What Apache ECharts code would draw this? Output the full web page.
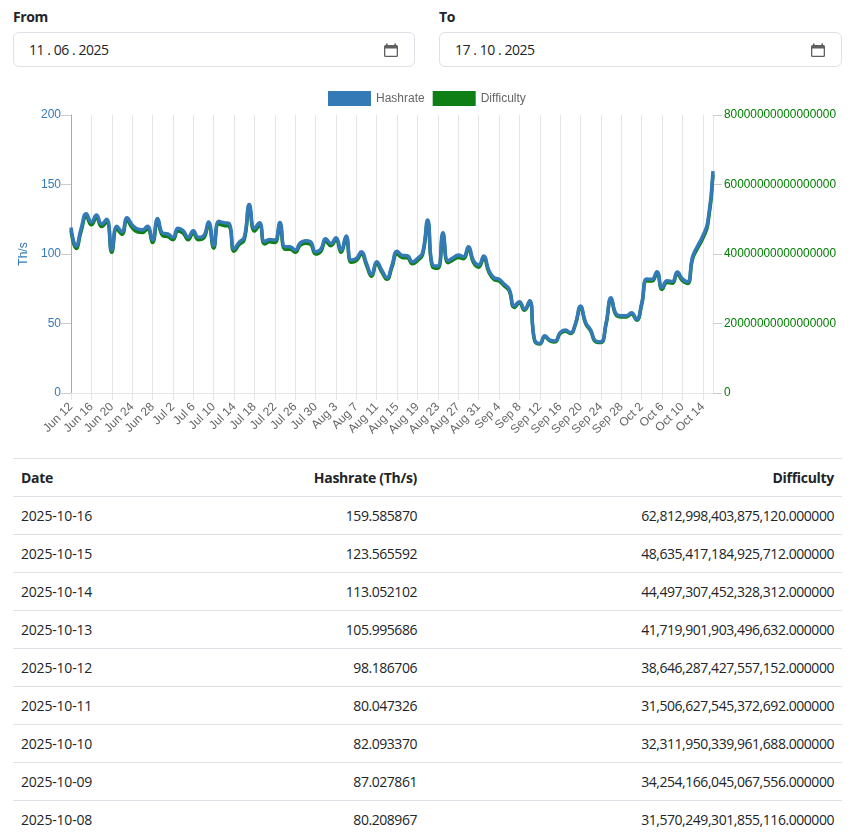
<!DOCTYPE html>
<html><head><meta charset="utf-8">
<script src="https://cdn.jsdelivr.net/npm/echarts@6/dist/echarts.min.js"></script>
<style>
html,body{margin:0;padding:0;background:#fff;width:856px;height:833px;overflow:hidden;font-family:"Open Sans","Noto Sans",sans-serif;color:#212529}
.lbl{position:absolute;top:7px;font-size:14px;font-weight:700;line-height:20px;letter-spacing:-.4px}
.inp{position:absolute;top:32px;height:33px;border:1px solid #dee2e6;border-radius:6px;box-sizing:content-box;background:#fff}
.inp span{position:absolute;left:15px;top:7px;font-size:14px;line-height:20px;letter-spacing:-.45px;white-space:pre}
.inp svg{position:absolute;right:15px;top:9px}
#chart{position:absolute;left:0;top:80px;width:856px;height:378px}
table{position:absolute;left:13px;top:458px;width:829px;border-collapse:collapse;font-size:14px;table-layout:fixed}
th,td{height:37px;padding:0 8px;border-top:1px solid #dee2e6;border-bottom:1px solid #dee2e6;box-sizing:content-box;line-height:20px}
th{font-weight:700;letter-spacing:-.3px}
td{letter-spacing:-.45px}
td.l{letter-spacing:-.2px}
.l{text-align:left}.r{text-align:right}
</style></head><body>
<div class="lbl" style="left:13px">From</div>
<div class="inp" style="left:13px;width:400px"><span>11 . 06 . 2025</span><svg width="16" height="16" viewBox="0 0 16 16"><path d="M3 1.500h1.600V3h6.800V1.500H13V3h.5A1.500 1.500 0 0 1 15 4.500v9a1.500 1.500 0 0 1-1.500 1.500h-11A1.500 1.500 0 0 1 1 13.500v-9A1.500 1.500 0 0 1 2.500 3H3zM2.300 6.500v7c0 .2.100.3.300.3h10.800c.2 0 .3-.1.300-.3v-7z" fill="#5f5f5f"/></svg></div>
<div class="lbl" style="left:439px">To</div>
<div class="inp" style="left:439px;width:401px"><span>17 . 10 . 2025</span><svg width="16" height="16" viewBox="0 0 16 16"><path d="M3 1.500h1.600V3h6.800V1.500H13V3h.5A1.500 1.500 0 0 1 15 4.500v9a1.500 1.500 0 0 1-1.500 1.500h-11A1.500 1.500 0 0 1 1 13.500v-9A1.500 1.500 0 0 1 2.500 3H3zM2.300 6.500v7c0 .2.100.3.300.3h10.800c.2 0 .3-.1.300-.3v-7z" fill="#5f5f5f"/></svg></div>
<div id="chart"></div>
<table id="tbl"></table>
<script>
const dates = ["Jun 12","Jun 13","Jun 14","Jun 15","Jun 16","Jun 17","Jun 18","Jun 19","Jun 20","Jun 21","Jun 22","Jun 23","Jun 24","Jun 25","Jun 26","Jun 27","Jun 28","Jun 29","Jun 30",
"Jul 1","Jul 2","Jul 3","Jul 4","Jul 5","Jul 6","Jul 7","Jul 8","Jul 9","Jul 10","Jul 11","Jul 12","Jul 13","Jul 14","Jul 15","Jul 16","Jul 17","Jul 18","Jul 19","Jul 20","Jul 21","Jul 22","Jul 23","Jul 24","Jul 25","Jul 26","Jul 27","Jul 28","Jul 29","Jul 30","Jul 31",
"Aug 1","Aug 2","Aug 3","Aug 4","Aug 5","Aug 6","Aug 7","Aug 8","Aug 9","Aug 10","Aug 11","Aug 12","Aug 13","Aug 14","Aug 15","Aug 16","Aug 17","Aug 18","Aug 19","Aug 20","Aug 21","Aug 22","Aug 23","Aug 24","Aug 25","Aug 26","Aug 27","Aug 28","Aug 29","Aug 30","Aug 31",
"Sep 1","Sep 2","Sep 3","Sep 4","Sep 5","Sep 6","Sep 7","Sep 8","Sep 9","Sep 10","Sep 11","Sep 12","Sep 13","Sep 14","Sep 15","Sep 16","Sep 17","Sep 18","Sep 19","Sep 20","Sep 21","Sep 22","Sep 23","Sep 24","Sep 25","Sep 26","Sep 27","Sep 28","Sep 29","Sep 30",
"Oct 1","Oct 2","Oct 3","Oct 4","Oct 5","Oct 6","Oct 7","Oct 8","Oct 9","Oct 10","Oct 11","Oct 12","Oct 13","Oct 14","Oct 15","Oct 16"];
const hashrate = [119,105.7,118.5,129,123,128,121.6,125,103,120,116,126,121,118,117.3,120,110,125.6,115,
114.4,112,118.5,116.8,112,116.8,112,113,123,106,123.5,122.5,122,103.6,108.4,112,135.7,118.5,122.5,109,110.5,110,122.7,105.2,105.2,102.8,108,109.5,108.8,101.6,103.3,
111,107.6,111.7,102.8,113,95.6,96.8,101.6,93.2,85.3,94.4,88.4,83,92,102,99,98.8,94.4,96.8,101,124.4,92,91.3,115.3,95.2,97.3,99.2,98,105.2,95.2,92,
98.5,88.4,83,81.8,78.4,74.6,62.6,65.7,60.4,66.4,38,35.7,41.2,38,37.4,43.4,45.3,43.4,50,62.6,50.8,45.3,37.4,36.9,50,68.6,56.8,55.6,55.6,57.8,
53,64.5,82,81.8,87.3,75.8,80.8,80.209,87.028,82.093,80.047,98.187,105.996,113.052,123.566,159.586];
const difficultyE15 = [46.8,41.6,46.6,50.8,48.4,50.4,47.9,49.2,40.5,47.2,45.7,49.6,47.6,46.4,46.2,47.2,43.3,49.4,45.3,
45.0,44.1,46.6,46.0,44.1,46.0,44.1,44.5,48.4,41.7,48.6,48.2,48.0,40.8,42.7,44.1,53.4,46.6,48.2,42.9,43.5,43.3,48.3,41.4,41.4,40.5,42.5,43.1,42.8,40.0,40.7,
43.7,42.4,44.0,40.5,44.5,37.6,38.1,40.0,36.7,33.6,37.2,34.8,32.7,36.2,40.1,39.0,38.9,37.2,38.1,39.8,49.0,36.2,35.9,45.4,37.5,38.3,39.0,38.6,41.4,37.5,36.2,
38.8,34.8,32.7,32.2,30.9,29.4,24.6,25.9,23.8,26.1,15.0,14.1,16.2,15.0,14.7,17.1,17.8,17.1,19.7,24.6,20.0,17.8,14.7,14.5,19.7,27.0,22.4,21.9,21.9,22.7,
20.9,25.4,32.3,32.2,34.4,29.8,31.8,31.57,34.25,32.31,31.51,38.65,41.72,44.50,48.64,62.81];
const tableDates = ["2025-10-16","2025-10-15","2025-10-14","2025-10-13","2025-10-12","2025-10-11","2025-10-10","2025-10-09","2025-10-08"];
const tableHashrate = ["159.585870","123.565592","113.052102","105.995686","98.186706","80.047326","82.093370","87.027861","80.208967"];
const tableDifficulty = ["62,812,998,403,875,120.000000","48,635,417,184,925,712.000000","44,497,307,452,328,312.000000","41,719,901,903,496,632.000000","38,646,287,427,557,152.000000","31,506,627,545,372,692.000000","32,311,950,339,961,688.000000","34,254,166,045,067,556.000000","31,570,249,301,855,116.000000"];

let rows = '<colgroup><col style="width:200px"><col style="width:212px"><col></colgroup><tr><th class="l">Date</th><th class="r">Hashrate (Th/s)</th><th class="r">Difficulty</th></tr>';
tableDates.forEach((d,i)=>{rows+=`<tr><td class="l">${d}</td><td class="r">${tableHashrate[i]}</td><td class="r">${tableDifficulty[i]}</td></tr>`;});
document.getElementById('tbl').innerHTML=rows;

const BLUE='#337ab7',GREEN='#0e7f14',GRID='#e5e5e5';
const F='"Liberation Sans",Arial,sans-serif';
const chart=echarts.init(document.getElementById('chart'),null,{renderer:'canvas'});
chart.setOption({
  animation:false,
  textStyle:{fontFamily:F},
  legend:{left:328,top:11,padding:0,itemWidth:43,itemHeight:15,itemGap:8,icon:'rect',
    textStyle:{color:'#666',fontSize:12,fontFamily:F,padding:[0,0,2,0]},
    data:[{name:'Hashrate',itemStyle:{color:BLUE}},{name:'Difficulty',itemStyle:{color:GREEN}}]},
  grid:{left:71,top:35,width:642,height:278,containLabel:false},
  xAxis:{type:'category',boundaryGap:false,data:dates,
    axisLine:{lineStyle:{color:GRID}},
    axisTick:{show:true,interval:3,length:7,lineStyle:{color:GRID}},
    splitLine:{show:true,interval:3,lineStyle:{color:GRID,width:1}},
    axisLabel:{interval:3,rotate:45,color:'#666',fontSize:12,fontFamily:F,margin:12}},
  yAxis:[
    {type:'value',min:0,max:200,interval:50,position:'left',name:'Th/s',nameLocation:'middle',nameGap:38,
     nameTextStyle:{color:BLUE,fontSize:12,fontFamily:F},
     axisLine:{show:true,lineStyle:{color:'#aaa'}},
     axisTick:{show:true,length:10,lineStyle:{color:'#ccc'}},splitLine:{show:false},
     axisLabel:{color:BLUE,fontSize:12,fontFamily:F,margin:10}},
    {type:'value',min:0,max:80,interval:20,position:'right',
     axisLine:{show:true,lineStyle:{color:GRID}},
     axisTick:{show:true,length:9,lineStyle:{color:'#ccc'}},splitLine:{show:false},
     axisLabel:{color:'#008000',fontSize:11.85,fontFamily:F,margin:11,
       formatter:v=>v===0?'0':v+'000000000000000'}}
  ],
  series:[
    {name:'Difficulty',type:'line',yAxisIndex:1,data:difficultyE15,smooth:0.5,showSymbol:false,z:2,
     lineStyle:{color:GREEN,width:3.5},itemStyle:{color:GREEN}},
    {name:'Hashrate',type:'line',yAxisIndex:0,data:hashrate,smooth:0.5,showSymbol:false,z:3,
     lineStyle:{color:BLUE,width:3.5},itemStyle:{color:BLUE}}
  ]
});
</script>
</body></html>
